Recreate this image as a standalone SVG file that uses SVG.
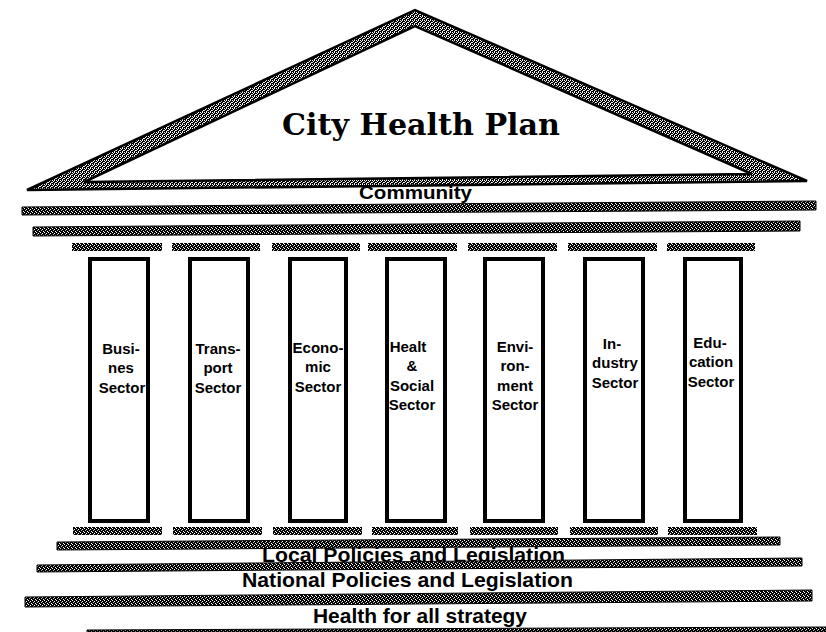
<svg xmlns="http://www.w3.org/2000/svg" width="826" height="632" viewBox="0 0 826 632">
  <defs>
    <pattern id="ditherLight" width="4" height="4" patternUnits="userSpaceOnUse">
      <rect width="4" height="4" fill="#000"/>
      <rect x="0" y="0" width="1" height="1" fill="#fff"/>
      <rect x="2" y="0" width="1" height="1" fill="#fff"/>
      <rect x="1" y="1" width="1" height="1" fill="#fff"/>
      <rect x="3" y="2" width="1" height="1" fill="#fff"/>
      <rect x="0" y="2" width="1" height="1" fill="#ddd"/>
      <rect x="2" y="3" width="1" height="1" fill="#fff"/>
    </pattern>
    <pattern id="ditherDark" width="4" height="4" patternUnits="userSpaceOnUse">
      <rect width="4" height="4" fill="#000"/>
      <rect x="0" y="0" width="1" height="1" fill="#fff"/>
      <rect x="2" y="1" width="1" height="1" fill="#fff"/>
      <rect x="1" y="2" width="1" height="1" fill="#bbb"/>
      <rect x="3" y="3" width="1" height="1" fill="#fff"/>
    </pattern>
  </defs>
  <style>
    .bar { fill: url(#ditherDark); stroke: #000; stroke-width: 1; }
    .block { fill: url(#ditherDark); }
    .pillar { fill: #fff; stroke: #000; stroke-width: 4; }
    .lbl { font-family: "Liberation Sans", Arial, sans-serif; font-weight: bold; font-size: 15px; fill: #000; text-anchor: middle; }
    .band { font-family: "Liberation Sans", Arial, sans-serif; font-weight: bold; font-size: 21px; fill: #000; text-anchor: middle; }
    .comm { font-family: "Liberation Sans", Arial, sans-serif; font-weight: bold; font-size: 19px; fill: #000; text-anchor: middle; }
    .title { font-family: "DejaVu Serif", "Liberation Serif", serif; font-weight: bold; font-size: 30px; fill: #000; text-anchor: middle; }
  </style>
  <rect width="826" height="632" fill="#fff"/>

  <g id="roof">
    <polygon points="27,190 415,10 807,181" fill="url(#ditherLight)" stroke="#000" stroke-width="2.5"/>
    <polygon points="84,182 415,26 752,174" fill="#fff" stroke="#000" stroke-width="2.5"/>
    <text class="title" x="421" y="135" textLength="278" lengthAdjust="spacingAndGlyphs">City Health Plan</text>
  </g>

  <g id="community">
    <text class="comm" x="415.5" y="199" textLength="113" lengthAdjust="spacingAndGlyphs">Community</text>
    <polygon class="bar" points="22,207 816,201 816,210 22,215"/>
    <polygon class="bar" points="33,227 800,221 800,231 33,236"/>
  </g>

  <g id="capitals">
    <rect class="block" x="72" y="243" width="90" height="8"/>
    <rect class="block" x="172" y="243" width="88" height="8"/>
    <rect class="block" x="272" y="243" width="88" height="8"/>
    <rect class="block" x="368" y="243" width="89" height="8"/>
    <rect class="block" x="468" y="243" width="89" height="8"/>
    <rect class="block" x="568" y="243" width="89" height="8"/>
    <rect class="block" x="667" y="243" width="88" height="8"/>
  </g>

  <g id="business">
    <rect class="pillar" x="90" y="259" width="58" height="262"/>
    <text class="lbl" x="121"><tspan x="121" y="354">Busi-</tspan><tspan x="121" y="373">nes</tspan><tspan x="122" y="393">Sector</tspan></text>
  </g>
  <g id="transport">
    <rect class="pillar" x="190" y="259" width="58" height="262"/>
    <text class="lbl" x="218"><tspan x="218" y="354">Trans-</tspan><tspan x="218" y="373">port</tspan><tspan x="218" y="393">Sector</tspan></text>
  </g>
  <g id="economic">
    <rect class="pillar" x="290" y="259" width="56" height="262"/>
    <text class="lbl" x="318"><tspan x="318" y="353">Econo-</tspan><tspan x="318" y="372">mic</tspan><tspan x="318" y="392">Sector</tspan></text>
  </g>
  <g id="health-social">
    <rect class="pillar" x="387" y="259" width="58" height="262"/>
    <text class="lbl" x="412"><tspan x="408" y="352">Healt</tspan><tspan x="412" y="371">&amp;</tspan><tspan x="412" y="391">Social</tspan><tspan x="412" y="410">Sector</tspan></text>
  </g>
  <g id="environment">
    <rect class="pillar" x="485" y="259" width="58" height="262"/>
    <text class="lbl" x="515"><tspan x="515" y="352">Envi-</tspan><tspan x="515" y="371">ron-</tspan><tspan x="515" y="391">ment</tspan><tspan x="515" y="410">Sector</tspan></text>
  </g>
  <g id="industry">
    <rect class="pillar" x="585" y="259" width="58" height="262"/>
    <text class="lbl" x="614"><tspan x="612" y="349">In-</tspan><tspan x="615" y="368">dustry</tspan><tspan x="615" y="388">Sector</tspan></text>
  </g>
  <g id="education">
    <rect class="pillar" x="685" y="259" width="56" height="262"/>
    <text class="lbl" x="711"><tspan x="710" y="348">Edu-</tspan><tspan x="711" y="367">cation</tspan><tspan x="711" y="387">Sector</tspan></text>
  </g>

  <g id="bases">
    <rect class="block" x="73" y="527" width="89" height="8"/>
    <rect class="block" x="173" y="527" width="89" height="8"/>
    <rect class="block" x="273" y="527" width="89" height="8"/>
    <rect class="block" x="372" y="527" width="86" height="8"/>
    <rect class="block" x="470" y="527" width="88" height="8"/>
    <rect class="block" x="570" y="527" width="88" height="8"/>
    <rect class="block" x="668" y="527" width="89" height="8"/>
  </g>

  <g id="local">
    <polygon class="bar" points="57,542 780,537 780,545 57,550"/>
    <text class="band" x="413.5" y="562" textLength="303" lengthAdjust="spacingAndGlyphs">Local Policies and Legislation</text>
  </g>
  <g id="national">
    <polygon class="bar" points="37,565 802,558 802,566 37,572"/>
    <text class="band" x="407.5" y="587" textLength="331" lengthAdjust="spacingAndGlyphs">National Policies and Legislation</text>
  </g>
  <g id="hfa">
    <polygon class="bar" points="25,597 812,590 812,601 25,607"/>
    <text class="band" x="420" y="623" textLength="214" lengthAdjust="spacingAndGlyphs">Health for all strategy</text>
    <polygon class="bar" points="87,630 826,627 826,632 87,632"/>
  </g>
</svg>
